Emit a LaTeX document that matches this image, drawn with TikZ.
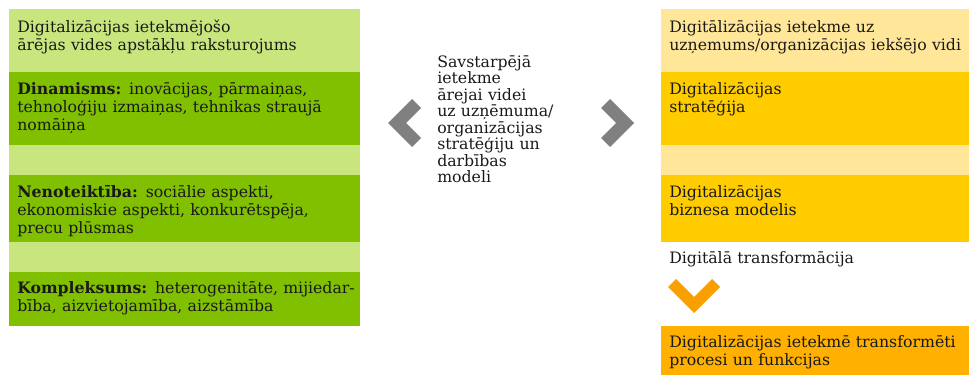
\documentclass[tikz,border=0pt]{standalone}
\usepackage{fontspec}
\setmainfont{DejaVu Serif}
\usepackage{xcolor}
\usepackage{tikz}
\usetikzlibrary{positioning}

\definecolor{envlight}{HTML}{C8E67D}
\definecolor{envdark}{HTML}{80C000}
\definecolor{orglight}{HTML}{FFE699}
\definecolor{orgdark}{HTML}{FFCC00}
\definecolor{outcome}{HTML}{FFB000}
\definecolor{chevgrey}{HTML}{808080}
\definecolor{chevorange}{HTML}{F9A000}

\begin{document}
\begin{tikzpicture}[x=0.75pt, y=-0.75pt, node distance=0pt,
  font=\fontsize{11.8}{13.5}\selectfont, text=black!90,
  band/.style={rectangle, inner sep=0pt, outer sep=0pt, anchor=north west, minimum width=263.25pt},
  rband/.style={band, minimum width=231pt},
  lbl/.style={anchor=base west, inner sep=0pt, text width=300pt, align=left}]
\useasboundingbox (0,0) rectangle (969,375);

% external environment
\node[band, fill=envlight, minimum height=47.25pt] (env) at (9,9) {};
\node[band, fill=envdark, minimum height=54.75pt, below=of env] (dyn) {};
\node[band, fill=envlight, minimum height=22.5pt, below=of dyn] (gapa) {};
\node[band, fill=envdark, minimum height=50.25pt, below=of gapa] (unc) {};
\node[band, fill=envlight, minimum height=22.5pt, below=of unc] (gapb) {};
\node[band, fill=envdark, minimum height=40.5pt, below=of gapb] (cplx) {};

\node[lbl] (envtxt) at ([shift={(8,23)}]env.north west) {Digitalizācijas ietekmējošo\\ārējas vides apstākļu raksturojums};
\node[lbl] (dyntxt) at ([shift={(8,22)}]dyn.north west) {\textbf{Dinamisms:} inovācijas, pārmaiņas,\\tehnoloģiju izmaiņas, tehnikas straujā\\nomāiņa};
\node[lbl] (unctxt) at ([shift={(8,22)}]unc.north west) {\textbf{Nenoteiktība:} sociālie aspekti,\\ekonomiskie aspekti, konkurētspēja,\\precu plūsmas};
\node[lbl] (cplxtxt) at ([shift={(8,21)}]cplx.north west) {\textbf{Kompleksums:} heterogenitāte, mijiedar-\\bība, aizvietojamība, aizstāmība};

% mutual influence
\node[lbl, font=\fontsize{11.8}{12.4}\selectfont] (mutual) at (437,67) {Savstarpējā\\ietekme\\ārejai videi\\uz uzņēmuma/\\organizācijas\\stratēģiju un\\darbības\\modeli};
\fill[chevgrey] (388,123) -- (412,99) -- (421,108) -- (406,123) -- (421,138) -- (412,147) -- cycle;
\fill[chevgrey] (634,123) -- (610,99) -- (601,108) -- (616,123) -- (601,138) -- (610,147) -- cycle;

% internal environment
\node[rband, fill=orglight, minimum height=47.25pt] (org) at (661,9) {};
\node[rband, fill=orgdark, minimum height=54.75pt, below=of org] (strat) {};
\node[rband, fill=orglight, minimum height=22.5pt, below=of strat] (gapc) {};
\node[rband, fill=orgdark, minimum height=50.25pt, below=of gapc] (bizm) {};
\node[rband, fill=outcome, minimum height=36.75pt] (result) at (661,326) {};

\node[lbl] (orgtxt) at ([shift={(8,23)}]org.north west) {Digitālizācijas ietekme uz\\uzņemums/organizācijas iekšējo vidi};
\node[lbl] (strattxt) at ([shift={(8,22)}]strat.north west) {Digitalizācijas\\stratēģija};
\node[lbl] (bizmtxt) at ([shift={(8,22)}]bizm.north west) {Digitalizācijas\\biznesa modelis};
\node[lbl] (dtlabel) at (669,263) {Digitālā transformācija};
\node[lbl] (resulttxt) at ([shift={(8,21)}]result.north west) {Digitalizācijas ietekmē transformēti\\procesi un funkcijas};

\fill[chevorange] (694,313) -- (668,287) -- (676,279) -- (694,297) -- (712,279) -- (720,287) -- cycle;
\end{tikzpicture}
\end{document}
